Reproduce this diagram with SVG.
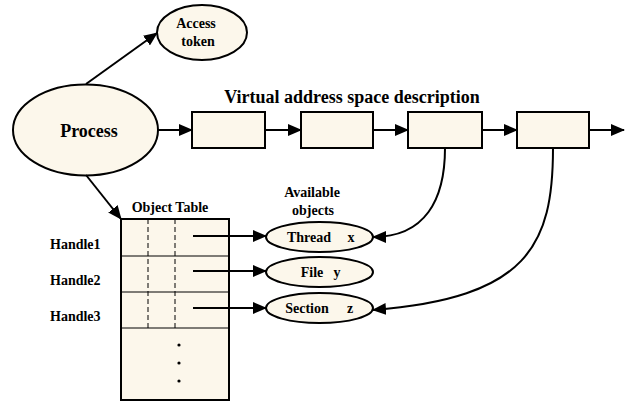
<svg xmlns="http://www.w3.org/2000/svg" width="626" height="410" viewBox="0 0 626 410">
<defs>
<marker id="ah" markerUnits="userSpaceOnUse" markerWidth="14" markerHeight="12" refX="13" refY="6" orient="auto">
<path d="M0,0 L14,6 L0,12 Z" fill="#000"/>
</marker>
<style>
.n{fill:#FCF7EB;stroke:#000;stroke-width:2}
.c{fill:none;stroke:#000;stroke-width:2;marker-end:url(#ah)}
text{font-family:"Liberation Serif","Times New Roman",serif;font-weight:bold;fill:#000}
.s{font-size:14px}
.m{font-size:14px}
.l{font-size:18px}
.d{stroke:#000;stroke-width:1;stroke-dasharray:5,3}
.r{stroke:#000;stroke-width:1}
</style>
</defs>
<rect width="626" height="410" fill="#fff"/>
<g id="access-token">
<ellipse class="n" cx="202" cy="32.5" rx="45" ry="27.5"/>
<text class="s" x="196" y="28" text-anchor="middle">Access</text>
<text class="s" x="198" y="46" text-anchor="middle">token</text>
</g>
<g id="process">
<ellipse class="n" cx="85.5" cy="130" rx="72.5" ry="45.5"/>
<text class="l" x="89" y="137" text-anchor="middle">Process</text>
</g>
<text class="l" x="352" y="103" text-anchor="middle">Virtual address space description</text>
<g id="vas1"><rect class="n" x="192" y="112" width="73" height="36"/></g>
<g id="vas2"><rect class="n" x="301" y="112" width="72" height="36"/></g>
<g id="vas3"><rect class="n" x="408" y="112" width="74" height="36"/></g>
<g id="vas4"><rect class="n" x="517" y="112" width="72" height="36"/></g>
<g id="object-table">
<text class="m" x="170" y="212" text-anchor="middle">Object Table</text>
<rect class="n" x="121" y="219" width="108" height="181"/>
<line class="r" x1="121" y1="256" x2="229" y2="256"/>
<line class="r" x1="121" y1="292" x2="229" y2="292"/>
<line class="r" x1="121" y1="328" x2="229" y2="328"/>
<line class="d" x1="148" y1="219" x2="148" y2="328"/>
<line class="d" x1="175" y1="219" x2="175" y2="328"/>
<circle cx="179" cy="345" r="1.6" fill="#000"/>
<circle cx="179" cy="363" r="1.6" fill="#000"/>
<circle cx="179" cy="381" r="1.6" fill="#000"/>
<text class="m" x="50" y="249">Handle1</text>
<text class="m" x="50" y="285">Handle2</text>
<text class="m" x="50" y="321">Handle3</text>
</g>
<text class="m" x="312" y="197" text-anchor="middle">Available</text>
<text class="m" x="313" y="215" text-anchor="middle">objects</text>
<g id="thread">
<ellipse class="n" cx="319.5" cy="237" rx="53.5" ry="15"/>
<text class="m" x="309" y="242" text-anchor="middle">Thread</text>
<text class="m" x="351" y="242" text-anchor="middle">x</text>
</g>
<g id="file">
<ellipse class="n" cx="319.5" cy="272" rx="53.5" ry="15"/>
<text class="m" x="312" y="277" text-anchor="middle">File</text>
<text class="m" x="337" y="277" text-anchor="middle">y</text>
</g>
<g id="section">
<ellipse class="n" cx="319.5" cy="308" rx="53.5" ry="15"/>
<text class="m" x="307" y="313" text-anchor="middle">Section</text>
<text class="m" x="350" y="313" text-anchor="middle">z</text>
</g>
<g id="connectors">
<path class="c" d="M86,84 L157,33"/>
<path class="c" d="M86,175 L121,219"/>
<path class="c" d="M158,130 L192,130"/>
<path class="c" d="M265,130 L301,130"/>
<path class="c" d="M373,130 L408,130"/>
<path class="c" d="M482,130 L517,130"/>
<path class="c" d="M589,130 L624,130"/>
<path class="c" d="M193,236 L266,236"/>
<path class="c" d="M193,271 L266,271"/>
<path class="c" d="M193,308 L266,308"/>
<path class="c" d="M445,148 C445,200 425,237 373,237"/>
<path class="c" d="M553,148 C553,245 528,298 373,310"/>
</g>
</svg>
